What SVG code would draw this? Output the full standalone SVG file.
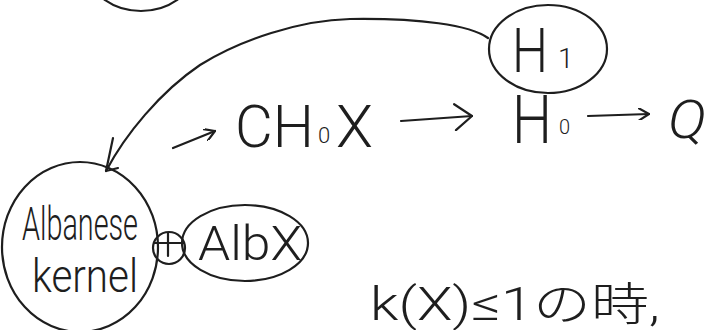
<svg xmlns="http://www.w3.org/2000/svg" width="711" height="330" viewBox="0 0 711 330">
<style>
.ln{fill:none;stroke:#1e1e1e;stroke-width:2.2;stroke-linecap:round;stroke-linejoin:round}
.t{font-family:"Roboto","Liberation Sans","Noto Sans CJK JP",sans-serif;font-weight:300;fill:#1e1e1e}
</style>
<defs>
<marker id="open" viewBox="0 0 12 12" refX="11" refY="6" markerWidth="12" markerHeight="12" markerUnits="userSpaceOnUse" orient="auto">
<path d="M1,0 L11,6 L1,12" fill="none" stroke="#1e1e1e" stroke-width="2.2" stroke-linecap="round" stroke-linejoin="round"/>
</marker>
<marker id="open2" viewBox="0 0 20 28" refX="19" refY="14" markerWidth="20" markerHeight="28" markerUnits="userSpaceOnUse" orient="auto">
<path d="M2,1 L19,14 L2,27" fill="none" stroke="#1e1e1e" stroke-width="2.2" stroke-linecap="round" stroke-linejoin="round"/>
</marker>
</defs>
<rect width="711" height="330" fill="#fff"/>
<g id="top-node">
<ellipse class="ln" cx="141" cy="-25" rx="50" ry="36"/>
</g>
<g id="h1">
<ellipse class="ln" cx="548" cy="49" rx="59" ry="44"/>
<text class="t" x="512" y="72" font-size="62" textLength="36" lengthAdjust="spacingAndGlyphs">H</text>
<text class="t" x="558" y="68" font-size="28">1</text>
</g>
<g id="choX">
<text class="t" x="235" y="147" font-size="60" textLength="79" lengthAdjust="spacingAndGlyphs">CH</text>
<text class="t" x="318" y="143" font-size="22">0</text>
<text class="t" x="336" y="147" font-size="60" textLength="37" lengthAdjust="spacingAndGlyphs">X</text>
</g>
<g id="h0">
<text class="t" x="512" y="143" font-size="66" textLength="40" lengthAdjust="spacingAndGlyphs">H</text>
<text class="t" x="559" y="134" font-size="20">0</text>
</g>
<g id="q">
<text class="t" x="668" y="138" font-size="54" font-style="italic" textLength="38" lengthAdjust="spacingAndGlyphs">Q</text>
</g>
<g id="albanese-kernel">
<ellipse class="ln" cx="80" cy="247" rx="78" ry="85"/>
<text class="t" x="22" y="240" font-size="46" textLength="116" lengthAdjust="spacingAndGlyphs">Albanese</text>
<text class="t" x="32" y="292" font-size="46" textLength="106" lengthAdjust="spacingAndGlyphs">kernel</text>
</g>
<g id="oplus">
<circle class="ln" cx="169" cy="248" r="16"/>
<path class="ln" d="M154,243 H184 M168,233 V256"/>
</g>
<g id="albX">
<ellipse class="ln" cx="245" cy="243" rx="63" ry="38"/>
<text class="t" x="198" y="260" font-size="48" textLength="104" lengthAdjust="spacingAndGlyphs">AlbX</text>
</g>
<g id="condition">
<text class="t" x="370" y="320" font-size="46" textLength="290" lengthAdjust="spacingAndGlyphs">k(X)≤1の時,</text>
</g>
<g id="connectors">
<path class="ln" d="M488,38 C470,25 420,18 350,19 C300,20 240,40 200,65 C160,92 125,135 106,171"/>
<path class="ln" d="M113,138 L106,171 L118,168"/>
<path class="ln" d="M173,148 L215,131" marker-end="url(#open)"/>
<path class="ln" d="M401,121 L472,116" marker-end="url(#open2)"/>
<path class="ln" d="M588,116 L649,114" marker-end="url(#open)"/>
</g>
</svg>
